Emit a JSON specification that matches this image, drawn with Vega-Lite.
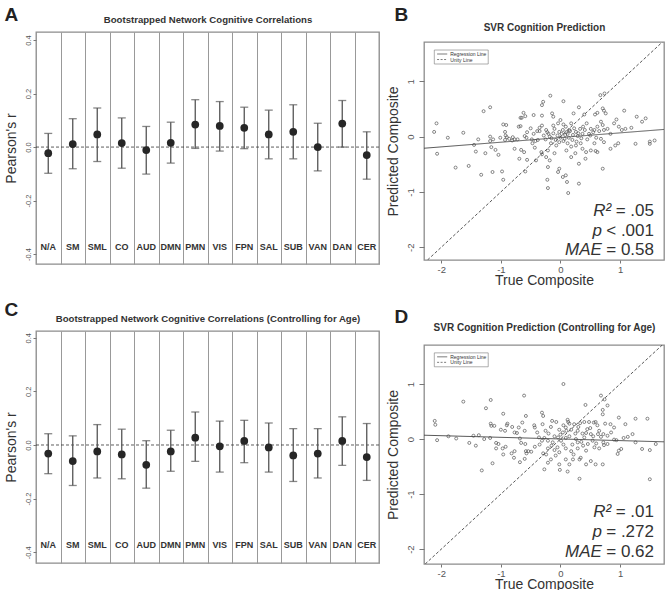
{
  "$schema": "https://vega.github.io/schema/vega-lite/v6.json",
  "padding": {"left": 3, "top": 4, "right": 0, "bottom": 0},
  "background": "white",
  "config": {
    "font": "Liberation Sans",
    "view": {"stroke": "#8c8c8c", "strokeWidth": 1.3},
    "axis": {"domain": false, "grid": false, "labelColor": "#555", "tickColor": "#777", "titleColor": "#333", "titleFontWeight": "normal"}
  },
  "datasets": {
    "netA": [
      {"net": "N/A", "r": -0.023, "lo": -0.098, "hi": 0.051},
      {"net": "SM", "r": 0.011, "lo": -0.081, "hi": 0.106},
      {"net": "SML", "r": 0.047, "lo": -0.054, "hi": 0.146},
      {"net": "CO", "r": 0.015, "lo": -0.079, "hi": 0.109},
      {"net": "AUD", "r": -0.011, "lo": -0.101, "hi": 0.077},
      {"net": "DMN", "r": 0.016, "lo": -0.060, "hi": 0.093},
      {"net": "PMN", "r": 0.084, "lo": -0.005, "hi": 0.177},
      {"net": "VIS", "r": 0.079, "lo": -0.015, "hi": 0.170},
      {"net": "FPN", "r": 0.072, "lo": -0.006, "hi": 0.149},
      {"net": "SAL", "r": 0.047, "lo": -0.044, "hi": 0.138},
      {"net": "SUB", "r": 0.057, "lo": -0.044, "hi": 0.158},
      {"net": "VAN", "r": 0.000, "lo": -0.089, "hi": 0.089},
      {"net": "DAN", "r": 0.088, "lo": 0.000, "hi": 0.174},
      {"net": "CER", "r": -0.030, "lo": -0.120, "hi": 0.057}
    ],
    "netC": [
      {"net": "N/A", "r": -0.032, "lo": -0.107, "hi": 0.042},
      {"net": "SM", "r": -0.060, "lo": -0.151, "hi": 0.034},
      {"net": "SML", "r": -0.024, "lo": -0.123, "hi": 0.076},
      {"net": "CO", "r": -0.035, "lo": -0.126, "hi": 0.059},
      {"net": "AUD", "r": -0.074, "lo": -0.161, "hi": 0.016},
      {"net": "DMN", "r": -0.024, "lo": -0.098, "hi": 0.055},
      {"net": "PMN", "r": 0.027, "lo": -0.061, "hi": 0.123},
      {"net": "VIS", "r": -0.005, "lo": -0.101, "hi": 0.089},
      {"net": "FPN", "r": 0.015, "lo": -0.066, "hi": 0.092},
      {"net": "SAL", "r": -0.009, "lo": -0.101, "hi": 0.082},
      {"net": "SUB", "r": -0.039, "lo": -0.136, "hi": 0.061},
      {"net": "VAN", "r": -0.032, "lo": -0.123, "hi": 0.061},
      {"net": "DAN", "r": 0.015, "lo": -0.076, "hi": 0.105},
      {"net": "CER", "r": -0.045, "lo": -0.132, "hi": 0.080}
    ],
    "svrB": [
      {"x": -2.08, "y": 0.24}, {"x": -2.12, "y": 0.085}, {"x": -1.89, "y": -0.02}, {"x": -1.63, "y": 0.07}, {"x": -2.07, "y": -0.31},
      {"x": -1.76, "y": -0.56}, {"x": -1.54, "y": -0.53}, {"x": -1.29, "y": 0.46}, {"x": -1.18, "y": 0.53}, {"x": -1.38, "y": -0.05},
      {"x": -1.42, "y": -0.27}, {"x": -1.45, "y": -0.15}, {"x": -1.26, "y": -0.30}, {"x": -1.33, "y": -0.69}, {"x": -1.14, "y": -0.64},
      {"x": -0.98, "y": -0.63}, {"x": -0.96, "y": -0.78}, {"x": -1.18, "y": 0.0}, {"x": -1.13, "y": -0.05}, {"x": -1.18, "y": -0.08},
      {"x": -1.16, "y": -0.19}, {"x": -1.09, "y": -0.24}, {"x": -1.04, "y": -0.33}, {"x": -1.01, "y": -0.02}, {"x": -0.96, "y": 0.22},
      {"x": -0.91, "y": 0.21}, {"x": -0.93, "y": 0.085}, {"x": -0.92, "y": 0.02}, {"x": -0.90, "y": -0.01}, {"x": -0.93, "y": -0.06},
      {"x": -0.86, "y": -0.04}, {"x": -0.80, "y": -0.01}, {"x": -0.77, "y": -0.05}, {"x": -0.81, "y": -0.07}, {"x": -0.72, "y": -0.05},
      {"x": -0.77, "y": -0.22}, {"x": -0.69, "y": -0.40}, {"x": -0.66, "y": -0.24}, {"x": -0.61, "y": -0.28}, {"x": -0.70, "y": 0.18},
      {"x": -0.67, "y": 0.19}, {"x": -0.67, "y": 0.34}, {"x": -0.65, "y": 0.34}, {"x": -0.62, "y": 0.43}, {"x": -0.59, "y": 0.37},
      {"x": -0.60, "y": 0.01}, {"x": -0.57, "y": -0.02}, {"x": -0.56, "y": -0.42}, {"x": -0.59, "y": -0.63}, {"x": -0.45, "y": 0.39},
      {"x": -0.48, "y": -0.05}, {"x": -0.47, "y": -0.12}, {"x": -0.43, "y": -0.20}, {"x": -0.39, "y": 0.10}, {"x": -0.35, "y": 0.10},
      {"x": -0.38, "y": -0.06}, {"x": -0.35, "y": 0.16}, {"x": -0.31, "y": 0.38}, {"x": -0.31, "y": 0.20}, {"x": -0.29, "y": 0.63},
      {"x": -0.31, "y": 0.57}, {"x": -0.32, "y": -0.28}, {"x": -0.31, "y": -0.32}, {"x": -0.41, "y": -0.43}, {"x": -0.56, "y": 0.08},
      {"x": -0.17, "y": 0.74}, {"x": 0.05, "y": 0.64}, {"x": 0.31, "y": 0.53}, {"x": 0.67, "y": 0.75}, {"x": 0.74, "y": 0.78},
      {"x": -0.14, "y": 0.42}, {"x": -0.12, "y": 0.36}, {"x": 0.22, "y": 0.42}, {"x": 0.40, "y": 0.40}, {"x": 0.58, "y": 0.40},
      {"x": 0.62, "y": 0.43}, {"x": 0.71, "y": 0.51}, {"x": 0.73, "y": 0.47}, {"x": 0.76, "y": 0.42}, {"x": 1.07, "y": 0.47},
      {"x": 1.28, "y": 0.36}, {"x": 1.37, "y": 0.27}, {"x": 1.43, "y": 0.33}, {"x": -0.24, "y": 0.12}, {"x": -0.20, "y": 0.05},
      {"x": -0.10, "y": 0.14}, {"x": -0.04, "y": 0.24}, {"x": -0.02, "y": 0.085}, {"x": 0.04, "y": 0.12}, {"x": 0.08, "y": 0.03},
      {"x": 0.09, "y": 0.18}, {"x": 0.12, "y": 0.05}, {"x": 0.15, "y": 0.12}, {"x": 0.18, "y": 0.24}, {"x": 0.21, "y": 0.03},
      {"x": 0.26, "y": 0.085}, {"x": 0.29, "y": 0.01}, {"x": 0.33, "y": 0.14}, {"x": 0.37, "y": 0.05}, {"x": 0.41, "y": 0.12},
      {"x": 0.44, "y": 0.24}, {"x": 0.48, "y": 0.05}, {"x": 0.51, "y": 0.14}, {"x": 0.57, "y": 0.12}, {"x": 0.62, "y": 0.18},
      {"x": 0.68, "y": 0.27}, {"x": 0.71, "y": 0.21}, {"x": 0.73, "y": 0.12}, {"x": 0.79, "y": 0.14}, {"x": 0.84, "y": 0.05},
      {"x": 0.90, "y": 0.24}, {"x": 0.94, "y": 0.31}, {"x": 0.98, "y": 0.18}, {"x": 1.03, "y": 0.12}, {"x": 1.09, "y": 0.14},
      {"x": 1.19, "y": 0.16}, {"x": 0.97, "y": -0.12}, {"x": 0.92, "y": -0.16}, {"x": 0.84, "y": -0.22}, {"x": 1.26, "y": -0.13},
      {"x": 1.50, "y": -0.13}, {"x": 1.50, "y": -0.09}, {"x": 1.58, "y": -0.07}, {"x": -0.16, "y": -0.12}, {"x": -0.07, "y": -0.16},
      {"x": -0.02, "y": -0.10}, {"x": 0.07, "y": -0.04}, {"x": 0.12, "y": -0.12}, {"x": 0.18, "y": -0.18}, {"x": 0.18, "y": -0.37},
      {"x": 0.26, "y": -0.16}, {"x": 0.34, "y": -0.12}, {"x": 0.37, "y": -0.22}, {"x": 0.43, "y": -0.28}, {"x": 0.51, "y": -0.25},
      {"x": 0.59, "y": -0.26}, {"x": 0.62, "y": -0.28}, {"x": 0.57, "y": -0.12}, {"x": 0.68, "y": -0.04}, {"x": 0.73, "y": -0.10},
      {"x": -0.21, "y": -0.25}, {"x": -0.24, "y": -0.37}, {"x": -0.18, "y": -0.43}, {"x": -0.21, "y": -0.55}, {"x": -0.02, "y": -0.58},
      {"x": -0.04, "y": -0.64}, {"x": 0.04, "y": -0.73}, {"x": 0.09, "y": -0.70}, {"x": 0.11, "y": -0.82}, {"x": -0.22, "y": -0.78},
      {"x": 0.31, "y": -0.85}, {"x": -0.21, "y": -0.93}, {"x": 0.13, "y": -1.02}, {"x": 0.31, "y": -0.49}, {"x": 0.71, "y": -0.58},
      {"x": -0.28, "y": 0.02}, {"x": -0.25, "y": -0.05}, {"x": -0.22, "y": 0.08}, {"x": -0.18, "y": 0.0}, {"x": -0.15, "y": -0.03},
      {"x": -0.12, "y": 0.06}, {"x": -0.08, "y": -0.06}, {"x": -0.05, "y": 0.02}, {"x": 0.0, "y": -0.02}, {"x": 0.02, "y": 0.05},
      {"x": 0.05, "y": -0.08}, {"x": 0.10, "y": 0.08}, {"x": 0.14, "y": -0.02}, {"x": 0.16, "y": 0.10}, {"x": 0.20, "y": -0.06},
      {"x": 0.23, "y": 0.15}, {"x": 0.27, "y": -0.09}, {"x": 0.30, "y": 0.06}, {"x": 0.35, "y": -0.03}, {"x": 0.38, "y": 0.18},
      {"x": 0.45, "y": -0.05}, {"x": 0.50, "y": 0.02}, {"x": 0.55, "y": 0.08}, {"x": 0.60, "y": -0.02}, {"x": 0.65, "y": 0.10},
      {"x": -0.45, "y": 0.05}, {"x": -0.50, "y": 0.15}, {"x": -0.42, "y": -0.08}, {"x": 0.0, "y": 0.30}, {"x": 0.10, "y": -0.25},
      {"x": -0.10, "y": -0.30}, {"x": 0.25, "y": -0.30}, {"x": 0.42, "y": -0.40}, {"x": -0.12, "y": 0.20}, {"x": 0.05, "y": 0.22}
    ],
    "svrD": [
      {"x": -2.11, "y": 0.33}, {"x": -2.10, "y": 0.26}, {"x": -2.07, "y": -0.02}, {"x": -1.88, "y": 0.05}, {"x": -1.75, "y": 0.01},
      {"x": -1.63, "y": 0.68}, {"x": -1.53, "y": -0.07}, {"x": -1.46, "y": 0.06}, {"x": -1.42, "y": -0.12}, {"x": -1.37, "y": 0.07},
      {"x": -1.32, "y": -0.57}, {"x": -1.28, "y": 0.0}, {"x": -1.25, "y": 0.56}, {"x": -1.17, "y": 0.71}, {"x": -1.18, "y": 0.02},
      {"x": -1.17, "y": 0.28}, {"x": -1.16, "y": 0.24}, {"x": -1.11, "y": 0.24}, {"x": -1.14, "y": -0.44}, {"x": -1.08, "y": -0.07},
      {"x": -1.04, "y": -0.09}, {"x": -1.08, "y": -0.17}, {"x": -1.00, "y": 0.17}, {"x": -0.96, "y": 0.46}, {"x": -0.97, "y": -0.17},
      {"x": -0.92, "y": -0.14}, {"x": -0.96, "y": -0.28}, {"x": -0.93, "y": 0.15}, {"x": -0.90, "y": 0.25}, {"x": -0.89, "y": 0.28},
      {"x": -0.82, "y": -0.26}, {"x": -0.81, "y": 0.22}, {"x": -0.77, "y": 0.12}, {"x": -0.77, "y": -0.22}, {"x": -0.78, "y": -0.34},
      {"x": -0.73, "y": 0.11}, {"x": -0.70, "y": 0.21}, {"x": -0.68, "y": 0.01}, {"x": -0.68, "y": -0.42}, {"x": -0.66, "y": -0.07},
      {"x": -0.64, "y": 0.30}, {"x": -0.61, "y": 0.79}, {"x": -0.60, "y": 0.15}, {"x": -0.58, "y": 0.42}, {"x": -0.59, "y": -0.09},
      {"x": -0.58, "y": -0.22}, {"x": -0.57, "y": -0.26}, {"x": -0.54, "y": -0.22}, {"x": -0.60, "y": -0.36}, {"x": -0.49, "y": -0.23},
      {"x": -0.43, "y": -0.14}, {"x": -0.44, "y": 0.25}, {"x": -0.43, "y": 0.21}, {"x": -0.39, "y": 0.12}, {"x": -0.36, "y": 0.03},
      {"x": -0.31, "y": 0.48}, {"x": -0.29, "y": 0.42}, {"x": -0.30, "y": 0.27}, {"x": -0.31, "y": -0.03}, {"x": -0.29, "y": -0.26},
      {"x": -0.27, "y": -0.55}, {"x": 0.05, "y": 1.00}, {"x": 0.42, "y": 0.62}, {"x": 0.68, "y": 0.79}, {"x": 0.74, "y": 0.72},
      {"x": 0.79, "y": 0.61}, {"x": 0.71, "y": 0.53}, {"x": 0.71, "y": 0.45}, {"x": 0.98, "y": 0.39}, {"x": 1.26, "y": 0.37},
      {"x": 1.46, "y": 0.37}, {"x": -0.14, "y": 0.33}, {"x": -0.07, "y": 0.31}, {"x": 0.12, "y": 0.35}, {"x": 0.13, "y": 0.31},
      {"x": 0.15, "y": 0.28}, {"x": 0.23, "y": 0.27}, {"x": 0.33, "y": 0.29}, {"x": 0.40, "y": 0.31}, {"x": 0.48, "y": 0.31},
      {"x": 0.56, "y": 0.30}, {"x": 0.59, "y": 0.31}, {"x": 0.62, "y": 0.25}, {"x": 0.75, "y": 0.28}, {"x": 0.84, "y": 0.27},
      {"x": 0.90, "y": 0.21}, {"x": 1.09, "y": 0.27}, {"x": -0.16, "y": 0.22}, {"x": -0.02, "y": 0.17}, {"x": 0.04, "y": 0.12},
      {"x": 0.09, "y": 0.21}, {"x": 0.18, "y": 0.17}, {"x": 0.29, "y": 0.15}, {"x": 0.37, "y": 0.10}, {"x": 0.43, "y": 0.11},
      {"x": 0.51, "y": 0.09}, {"x": 0.63, "y": 0.09}, {"x": 0.68, "y": 0.04}, {"x": 0.72, "y": 0.09}, {"x": 0.79, "y": 0.06},
      {"x": 0.90, "y": -0.01}, {"x": 0.94, "y": -0.02}, {"x": 1.06, "y": 0.02}, {"x": 1.13, "y": 0.04}, {"x": 1.21, "y": 0.09},
      {"x": -0.27, "y": 0.02}, {"x": -0.21, "y": -0.03}, {"x": -0.13, "y": -0.06}, {"x": -0.04, "y": 0.03}, {"x": 0.01, "y": -0.03},
      {"x": 0.09, "y": 0.02}, {"x": 0.26, "y": 0.0}, {"x": 0.29, "y": -0.06}, {"x": 0.40, "y": 0.03}, {"x": 0.46, "y": -0.09},
      {"x": 0.54, "y": -0.03}, {"x": 0.72, "y": -0.06}, {"x": 0.79, "y": -0.09}, {"x": -0.21, "y": -0.17}, {"x": -0.10, "y": -0.20},
      {"x": -0.02, "y": -0.24}, {"x": 0.09, "y": -0.17}, {"x": 0.18, "y": -0.22}, {"x": 0.29, "y": -0.17}, {"x": 0.43, "y": -0.21},
      {"x": 0.57, "y": -0.15}, {"x": 0.65, "y": -0.17}, {"x": 0.73, "y": -0.11}, {"x": 0.98, "y": -0.21}, {"x": 1.02, "y": -0.18},
      {"x": 0.96, "y": -0.27}, {"x": 1.26, "y": -0.06}, {"x": 1.37, "y": -0.18}, {"x": 1.50, "y": -0.20}, {"x": -0.24, "y": -0.28},
      {"x": -0.16, "y": -0.37}, {"x": -0.02, "y": -0.46}, {"x": -0.01, "y": -0.56}, {"x": 0.12, "y": -0.59}, {"x": 0.21, "y": -0.37},
      {"x": 0.32, "y": -0.37}, {"x": 0.34, "y": -0.34}, {"x": 0.43, "y": -0.46}, {"x": 0.51, "y": -0.40}, {"x": 0.59, "y": -0.46},
      {"x": 0.71, "y": -0.46}, {"x": 0.09, "y": -0.37}, {"x": 0.15, "y": -0.46}, {"x": 0.32, "y": -0.72}, {"x": 1.50, "y": -0.73},
      {"x": -0.21, "y": -0.43}, {"x": 1.60, "y": -0.09}, {"x": -0.20, "y": 0.10}, {"x": -0.10, "y": 0.05}, {"x": 0.0, "y": 0.08},
      {"x": 0.05, "y": -0.10}, {"x": 0.15, "y": 0.05}, {"x": 0.20, "y": -0.10}, {"x": 0.25, "y": 0.10}, {"x": 0.35, "y": -0.05},
      {"x": 0.45, "y": 0.18}, {"x": 0.55, "y": 0.05}, {"x": 0.60, "y": -0.08}, {"x": -0.15, "y": -0.12}, {"x": 0.10, "y": 0.15},
      {"x": 0.30, "y": 0.22}, {"x": -0.05, "y": -0.15}, {"x": 0.38, "y": -0.12}, {"x": 0.50, "y": 0.20}, {"x": 0.65, "y": 0.15},
      {"x": 0.85, "y": 0.12}, {"x": -0.35, "y": -0.10}, {"x": -0.25, "y": 0.15}, {"x": 0.05, "y": 0.25}, {"x": -0.08, "y": -0.30},
      {"x": 0.22, "y": -0.28}
    ],
    "linesB": [
      {"kind": "Regression Line", "x": -2.29, "y": -0.21},
      {"kind": "Regression Line", "x": 1.738, "y": 0.13},
      {"kind": "Unity Line", "x": -2.231, "y": -2.231},
      {"kind": "Unity Line", "x": 1.711, "y": 1.711}
    ],
    "linesD": [
      {"kind": "Regression Line", "x": -2.29, "y": 0.07},
      {"kind": "Regression Line", "x": 1.738, "y": -0.05},
      {"kind": "Unity Line", "x": -2.27, "y": -2.27},
      {"kind": "Unity Line", "x": 1.709, "y": 1.709}
    ],
    "one": [{}]
  },
  "spacing": 4,
  "hconcat": [
    {
      "spacing": 34,
      "vconcat": [
        {
          "width": 343, "height": 232,
          "resolve": {"axis": {"x": "independent", "y": "independent"}},
          "layer": [
            {
              "data": {"name": "one"},
              "mark": {"type": "rule", "strokeDash": [3, 2], "color": "#333", "strokeWidth": 0.8},
              "encoding": {"y": {"datum": 0, "type": "quantitative", "scale": {"domain": [-0.437, 0.43], "nice": false, "zero": false}, "axis": null}}
            },
            {
              "data": {"name": "netA"},
              "mark": {"type": "rule", "color": "#555", "strokeWidth": 1.3},
              "encoding": {
                "x": {"field": "net", "type": "nominal", "sort": null, "scale": {"paddingInner": 0, "paddingOuter": 0},
                  "axis": {"orient": "top", "title": "Bootstrapped Network Cognitive Correlations", "titleFontSize": 9.6, "titleFontWeight": "bold", "titleColor": "#333", "titlePadding": 8, "labels": false, "ticks": false, "domain": false, "grid": true, "tickBand": "extent", "gridColor": "#999", "gridWidth": 1, "gridOpacity": 1}},
                "y": {"field": "lo", "type": "quantitative", "scale": {"domain": [-0.437, 0.43], "nice": false, "zero": false},
                  "axis": {"orient": "left", "title": "Pearson's r", "titleFontSize": 14, "titlePadding": 6, "values": [-0.4, -0.2, 0, 0.2, 0.4], "labelExpr": "replace(format(datum.value, '.1f'), '\u2212', '-')", "labelAngle": -90, "labelAlign": "center", "labelBaseline": "bottom", "labelFontSize": 7.5, "tickSize": 3, "labelPadding": 1}},
                "y2": {"field": "hi"}
              }
            },
            {
              "data": {"name": "netA"},
              "mark": {"type": "tick", "color": "#555", "size": 8, "thickness": 1.3},
              "encoding": {
                "x": {"field": "net", "type": "nominal", "sort": null, "scale": {"paddingInner": 0, "paddingOuter": 0}, "axis": null},
                "y": {"field": "lo", "type": "quantitative", "scale": {"domain": [-0.437, 0.43], "nice": false, "zero": false}, "axis": null}
              }
            },
            {
              "data": {"name": "netA"},
              "mark": {"type": "tick", "color": "#555", "size": 8, "thickness": 1.3},
              "encoding": {
                "x": {"field": "net", "type": "nominal", "sort": null, "scale": {"paddingInner": 0, "paddingOuter": 0}, "axis": null},
                "y": {"field": "hi", "type": "quantitative", "scale": {"domain": [-0.437, 0.43], "nice": false, "zero": false}, "axis": null}
              }
            },
            {
              "data": {"name": "netA"},
              "mark": {"type": "point", "filled": true, "shape": "circle", "size": 60, "color": "#262626", "opacity": 1},
              "encoding": {
                "x": {"field": "net", "type": "nominal", "sort": null, "scale": {"paddingInner": 0, "paddingOuter": 0}, "axis": null},
                "y": {"field": "r", "type": "quantitative", "scale": {"domain": [-0.437, 0.43], "nice": false, "zero": false},
                  "axis": {"orient": "right", "title": "A", "titleFontSize": 19, "titleFontWeight": "bold", "titleColor": "#222", "titleAngle": 0, "titleAlign": "left", "titleBaseline": "alphabetic", "titleX": -375, "titleY": -12, "labels": false, "ticks": false, "domain": false, "grid": false}}
              }
            },
            {
              "data": {"name": "netA"},
              "mark": {"type": "text", "fontWeight": "bold", "fontSize": 9, "color": "#333", "baseline": "middle"},
              "encoding": {
                "x": {"field": "net", "type": "nominal", "sort": null, "scale": {"paddingInner": 0, "paddingOuter": 0}, "axis": null},
                "y": {"datum": -0.374, "type": "quantitative", "scale": {"domain": [-0.437, 0.43], "nice": false, "zero": false}, "axis": null},
                "text": {"field": "net"}
              }
            }
          ]
        },
        {
          "width": 343, "height": 232,
          "resolve": {"axis": {"x": "independent", "y": "independent"}},
          "layer": [
            {
              "data": {"name": "one"},
              "mark": {"type": "rule", "strokeDash": [3, 2], "color": "#333", "strokeWidth": 0.8},
              "encoding": {"y": {"datum": 0, "type": "quantitative", "scale": {"domain": [-0.44, 0.425], "nice": false, "zero": false}, "axis": null}}
            },
            {
              "data": {"name": "netC"},
              "mark": {"type": "rule", "color": "#555", "strokeWidth": 1.3},
              "encoding": {
                "x": {"field": "net", "type": "nominal", "sort": null, "scale": {"paddingInner": 0, "paddingOuter": 0},
                  "axis": {"orient": "top", "title": "Bootstrapped Network Cognitive Correlations (Controlling for Age)", "titleFontSize": 9.6, "titleFontWeight": "bold", "titleColor": "#333", "titlePadding": 8, "labels": false, "ticks": false, "domain": false, "grid": true, "tickBand": "extent", "gridColor": "#999", "gridWidth": 1, "gridOpacity": 1}},
                "y": {"field": "lo", "type": "quantitative", "scale": {"domain": [-0.44, 0.425], "nice": false, "zero": false},
                  "axis": {"orient": "left", "title": "Pearson's r", "titleFontSize": 14, "titlePadding": 6, "values": [-0.4, -0.2, 0, 0.2, 0.4], "labelExpr": "replace(format(datum.value, '.1f'), '\u2212', '-')", "labelAngle": -90, "labelAlign": "center", "labelBaseline": "bottom", "labelFontSize": 7.5, "tickSize": 3, "labelPadding": 1}},
                "y2": {"field": "hi"}
              }
            },
            {
              "data": {"name": "netC"},
              "mark": {"type": "tick", "color": "#555", "size": 8, "thickness": 1.3},
              "encoding": {
                "x": {"field": "net", "type": "nominal", "sort": null, "scale": {"paddingInner": 0, "paddingOuter": 0}, "axis": null},
                "y": {"field": "lo", "type": "quantitative", "scale": {"domain": [-0.44, 0.425], "nice": false, "zero": false}, "axis": null}
              }
            },
            {
              "data": {"name": "netC"},
              "mark": {"type": "tick", "color": "#555", "size": 8, "thickness": 1.3},
              "encoding": {
                "x": {"field": "net", "type": "nominal", "sort": null, "scale": {"paddingInner": 0, "paddingOuter": 0}, "axis": null},
                "y": {"field": "hi", "type": "quantitative", "scale": {"domain": [-0.44, 0.425], "nice": false, "zero": false}, "axis": null}
              }
            },
            {
              "data": {"name": "netC"},
              "mark": {"type": "point", "filled": true, "shape": "circle", "size": 60, "color": "#262626", "opacity": 1},
              "encoding": {
                "x": {"field": "net", "type": "nominal", "sort": null, "scale": {"paddingInner": 0, "paddingOuter": 0}, "axis": null},
                "y": {"field": "r", "type": "quantitative", "scale": {"domain": [-0.44, 0.425], "nice": false, "zero": false},
                  "axis": {"orient": "right", "title": "C", "titleFontSize": 19, "titleFontWeight": "bold", "titleColor": "#222", "titleAngle": 0, "titleAlign": "left", "titleBaseline": "alphabetic", "titleX": -375, "titleY": -16, "labels": false, "ticks": false, "domain": false, "grid": false}}
              }
            },
            {
              "data": {"name": "netC"},
              "mark": {"type": "text", "fontWeight": "bold", "fontSize": 9, "color": "#333", "baseline": "middle"},
              "encoding": {
                "x": {"field": "net", "type": "nominal", "sort": null, "scale": {"paddingInner": 0, "paddingOuter": 0}, "axis": null},
                "y": {"datum": -0.374, "type": "quantitative", "scale": {"domain": [-0.44, 0.425], "nice": false, "zero": false}, "axis": null},
                "text": {"field": "net"}
              }
            }
          ]
        }
      ]
    },
    {
      "spacing": 17,
      "vconcat": [
        {
          "spacing": -32,
          "vconcat": [
            {
              "width": 240, "height": 1,
              "view": {"stroke": null},
              "data": {"name": "one"},
              "mark": {"type": "point", "opacity": 0},
              "encoding": {}
            },
            {
              "width": 240, "height": 218,
              "resolve": {"axis": {"x": "independent", "y": "independent"}},
              "layer": [
                {
                  "data": {"name": "svrB"},
                  "mark": {"type": "point", "shape": "circle", "filled": false, "size": 9, "stroke": "#555", "strokeWidth": 0.7, "opacity": 1},
                  "encoding": {
                    "x": {"field": "x", "type": "quantitative", "scale": {"domain": [-2.29, 1.738], "nice": false, "zero": false},
                      "axis": {"orient": "bottom", "title": "True Composite", "titleFontSize": 14, "titlePadding": 0, "values": [-2, -1, 0, 1], "labelExpr": "replace(datum.label, '\u2212', '-')", "labelFontSize": 9.5, "tickSize": 3, "labelPadding": 1}},
                    "y": {"field": "y", "type": "quantitative", "scale": {"domain": [-2.231, 1.711], "nice": false, "zero": false},
                      "axis": {"orient": "left", "title": "Predicted Composite", "titleFontSize": 14, "titlePadding": 5, "values": [-2, -1, 0, 1], "labelExpr": "replace(datum.label, '\u2212', '-')", "labelAngle": -90, "labelAlign": "center", "labelBaseline": "bottom", "labelFontSize": 9.5, "tickSize": 5, "labelPadding": 4}}
                  }
                },
                {
                  "data": {"name": "linesB"},
                  "mark": {"type": "line", "clip": true, "color": "#444", "strokeWidth": 0.9},
                  "encoding": {
                    "x": {"field": "x", "type": "quantitative", "scale": {"domain": [-2.29, 1.738], "nice": false, "zero": false},
                      "axis": {"orient": "top", "title": "SVR Cognition Prediction", "titleFontSize": 10, "titleFontWeight": "bold", "titleColor": "#333", "titlePadding": 10, "labels": false, "ticks": false, "domain": false, "grid": false}},
                    "y": {"field": "y", "type": "quantitative", "scale": {"domain": [-2.231, 1.711], "nice": false, "zero": false},
                      "axis": {"orient": "right", "title": "B", "titleFontSize": 19, "titleFontWeight": "bold", "titleColor": "#222", "titleAngle": 0, "titleAlign": "left", "titleBaseline": "alphabetic", "titleX": -270, "titleY": -22, "labels": false, "ticks": false, "domain": false, "grid": false}},
                    "strokeDash": {"field": "kind", "type": "nominal", "scale": {"domain": ["Regression Line", "Unity Line"], "range": [[1, 0], [3, 2]]}, "legend": null}
                  }
                },
                {
                  "data": {"name": "one"},
                  "mark": {"type": "rect", "fill": "white", "stroke": "#777", "strokeWidth": 0.6},
                  "encoding": {
                    "x": {"datum": -2.117, "type": "quantitative", "scale": {"domain": [-2.29, 1.738], "nice": false, "zero": false}, "axis": null},
                    "x2": {"datum": -1.212},
                    "y": {"datum": 1.566, "type": "quantitative", "scale": {"domain": [-2.231, 1.711], "nice": false, "zero": false}, "axis": null},
                    "y2": {"datum": 1.313}
                  }
                },
                {
                  "data": {"name": "one"},
                  "mark": {"type": "rule", "stroke": "#444", "strokeWidth": 0.7},
                  "encoding": {
                    "x": {"datum": -2.07, "type": "quantitative", "scale": {"domain": [-2.29, 1.738], "nice": false, "zero": false}, "axis": null},
                    "x2": {"datum": -1.90},
                    "y": {"datum": 1.494, "type": "quantitative", "scale": {"domain": [-2.231, 1.711], "nice": false, "zero": false}, "axis": null}
                  }
                },
                {
                  "data": {"name": "one"},
                  "mark": {"type": "rule", "stroke": "#444", "strokeWidth": 0.7, "strokeDash": [2, 1.5]},
                  "encoding": {
                    "x": {"datum": -2.07, "type": "quantitative", "scale": {"domain": [-2.29, 1.738], "nice": false, "zero": false}, "axis": null},
                    "x2": {"datum": -1.90},
                    "y": {"datum": 1.394, "type": "quantitative", "scale": {"domain": [-2.231, 1.711], "nice": false, "zero": false}, "axis": null}
                  }
                },
                {
                  "data": {"name": "one"},
                  "mark": {"type": "text", "fontSize": 5, "align": "left", "baseline": "middle", "color": "#333", "text": "Regression Line"},
                  "encoding": {
                    "x": {"datum": -1.85, "type": "quantitative", "scale": {"domain": [-2.29, 1.738], "nice": false, "zero": false}, "axis": null},
                    "y": {"datum": 1.494, "type": "quantitative", "scale": {"domain": [-2.231, 1.711], "nice": false, "zero": false}, "axis": null}
                  }
                },
                {
                  "data": {"name": "one"},
                  "mark": {"type": "text", "fontSize": 5, "align": "left", "baseline": "middle", "color": "#333", "text": "Unity Line"},
                  "encoding": {
                    "x": {"datum": -1.85, "type": "quantitative", "scale": {"domain": [-2.29, 1.738], "nice": false, "zero": false}, "axis": null},
                    "y": {"datum": 1.394, "type": "quantitative", "scale": {"domain": [-2.231, 1.711], "nice": false, "zero": false}, "axis": null}
                  }
                },
                {
                  "data": {"name": "one"},
                  "mark": {"type": "text", "fontSize": 17, "fontStyle": "italic", "align": "right", "baseline": "alphabetic", "color": "#333", "text": "R²"},
                  "encoding": {
                    "x": {"datum": 0.853, "type": "quantitative", "scale": {"domain": [-2.29, 1.738], "nice": false, "zero": false}, "axis": null},
                    "y": {"datum": -1.436, "type": "quantitative", "scale": {"domain": [-2.231, 1.711], "nice": false, "zero": false}, "axis": null}
                  }
                },
                {
                  "data": {"name": "one"},
                  "mark": {"type": "text", "fontSize": 17, "align": "right", "baseline": "alphabetic", "color": "#333", "text": " = .05"},
                  "encoding": {
                    "x": {"datum": 1.57, "type": "quantitative", "scale": {"domain": [-2.29, 1.738], "nice": false, "zero": false}, "axis": null},
                    "y": {"datum": -1.436, "type": "quantitative", "scale": {"domain": [-2.231, 1.711], "nice": false, "zero": false}, "axis": null}
                  }
                },
                {
                  "data": {"name": "one"},
                  "mark": {"type": "text", "fontSize": 17, "fontStyle": "italic", "align": "right", "baseline": "alphabetic", "color": "#333", "text": "p"},
                  "encoding": {
                    "x": {"datum": 0.6955, "type": "quantitative", "scale": {"domain": [-2.29, 1.738], "nice": false, "zero": false}, "axis": null},
                    "y": {"datum": -1.797, "type": "quantitative", "scale": {"domain": [-2.231, 1.711], "nice": false, "zero": false}, "axis": null}
                  }
                },
                {
                  "data": {"name": "one"},
                  "mark": {"type": "text", "fontSize": 17, "align": "right", "baseline": "alphabetic", "color": "#333", "text": " < .001"},
                  "encoding": {
                    "x": {"datum": 1.57, "type": "quantitative", "scale": {"domain": [-2.29, 1.738], "nice": false, "zero": false}, "axis": null},
                    "y": {"datum": -1.797, "type": "quantitative", "scale": {"domain": [-2.231, 1.711], "nice": false, "zero": false}, "axis": null}
                  }
                },
                {
                  "data": {"name": "one"},
                  "mark": {"type": "text", "fontSize": 17, "fontStyle": "italic", "align": "right", "baseline": "alphabetic", "color": "#333", "text": "MAE"},
                  "encoding": {
                    "x": {"datum": 0.6955, "type": "quantitative", "scale": {"domain": [-2.29, 1.738], "nice": false, "zero": false}, "axis": null},
                    "y": {"datum": -2.141, "type": "quantitative", "scale": {"domain": [-2.231, 1.711], "nice": false, "zero": false}, "axis": null}
                  }
                },
                {
                  "data": {"name": "one"},
                  "mark": {"type": "text", "fontSize": 17, "align": "right", "baseline": "alphabetic", "color": "#333", "text": " = 0.58"},
                  "encoding": {
                    "x": {"datum": 1.57, "type": "quantitative", "scale": {"domain": [-2.29, 1.738], "nice": false, "zero": false}, "axis": null},
                    "y": {"datum": -2.141, "type": "quantitative", "scale": {"domain": [-2.231, 1.711], "nice": false, "zero": false}, "axis": null}
                  }
                }
              ]
            }
          ]
        },
        {
          "width": 240, "height": 219,
          "resolve": {"axis": {"x": "independent", "y": "independent"}},
          "layer": [
            {
              "data": {"name": "svrD"},
              "mark": {"type": "point", "shape": "circle", "filled": false, "size": 9, "stroke": "#555", "strokeWidth": 0.7, "opacity": 1},
              "encoding": {
                "x": {"field": "x", "type": "quantitative", "scale": {"domain": [-2.29, 1.738], "nice": false, "zero": false},
                  "axis": {"orient": "bottom", "title": "True Composite", "titleFontSize": 14, "titlePadding": 0, "values": [-2, -1, 0, 1], "labelExpr": "replace(datum.label, '\u2212', '-')", "labelFontSize": 9.5, "tickSize": 3, "labelPadding": 1}},
                "y": {"field": "y", "type": "quantitative", "scale": {"domain": [-2.27, 1.709], "nice": false, "zero": false},
                  "axis": {"orient": "left", "title": "Predicted Composite", "titleFontSize": 14, "titlePadding": 5, "values": [-2, -1, 0, 1], "labelExpr": "replace(datum.label, '\u2212', '-')", "labelAngle": -90, "labelAlign": "center", "labelBaseline": "bottom", "labelFontSize": 9.5, "tickSize": 5, "labelPadding": 4}}
              }
            },
            {
              "data": {"name": "linesD"},
              "mark": {"type": "line", "clip": true, "color": "#444", "strokeWidth": 0.9},
              "encoding": {
                "x": {"field": "x", "type": "quantitative", "scale": {"domain": [-2.29, 1.738], "nice": false, "zero": false},
                  "axis": {"orient": "top", "title": "SVR Cognition Prediction (Controlling for Age)", "titleFontSize": 10, "titleFontWeight": "bold", "titleColor": "#333", "titlePadding": 13, "labels": false, "ticks": false, "domain": false, "grid": false}},
                "y": {"field": "y", "type": "quantitative", "scale": {"domain": [-2.27, 1.709], "nice": false, "zero": false},
                  "axis": {"orient": "right", "title": "D", "titleFontSize": 19, "titleFontWeight": "bold", "titleColor": "#222", "titleAngle": 0, "titleAlign": "left", "titleBaseline": "alphabetic", "titleX": -270, "titleY": -23, "labels": false, "ticks": false, "domain": false, "grid": false}},
                "strokeDash": {"field": "kind", "type": "nominal", "scale": {"domain": ["Regression Line", "Unity Line"], "range": [[1, 0], [3, 2]]}, "legend": null}
              }
            },
            {
              "data": {"name": "one"},
              "mark": {"type": "rect", "fill": "white", "stroke": "#777", "strokeWidth": 0.6},
              "encoding": {
                "x": {"datum": -2.117, "type": "quantitative", "scale": {"domain": [-2.29, 1.738], "nice": false, "zero": false}, "axis": null},
                "x2": {"datum": -1.212},
                "y": {"datum": 1.566, "type": "quantitative", "scale": {"domain": [-2.27, 1.709], "nice": false, "zero": false}, "axis": null},
                "y2": {"datum": 1.313}
              }
            },
            {
              "data": {"name": "one"},
              "mark": {"type": "rule", "stroke": "#444", "strokeWidth": 0.7},
              "encoding": {
                "x": {"datum": -2.07, "type": "quantitative", "scale": {"domain": [-2.29, 1.738], "nice": false, "zero": false}, "axis": null},
                "x2": {"datum": -1.90},
                "y": {"datum": 1.494, "type": "quantitative", "scale": {"domain": [-2.27, 1.709], "nice": false, "zero": false}, "axis": null}
              }
            },
            {
              "data": {"name": "one"},
              "mark": {"type": "rule", "stroke": "#444", "strokeWidth": 0.7, "strokeDash": [2, 1.5]},
              "encoding": {
                "x": {"datum": -2.07, "type": "quantitative", "scale": {"domain": [-2.29, 1.738], "nice": false, "zero": false}, "axis": null},
                "x2": {"datum": -1.90},
                "y": {"datum": 1.394, "type": "quantitative", "scale": {"domain": [-2.27, 1.709], "nice": false, "zero": false}, "axis": null}
              }
            },
            {
              "data": {"name": "one"},
              "mark": {"type": "text", "fontSize": 5, "align": "left", "baseline": "middle", "color": "#333", "text": "Regression Line"},
              "encoding": {
                "x": {"datum": -1.85, "type": "quantitative", "scale": {"domain": [-2.29, 1.738], "nice": false, "zero": false}, "axis": null},
                "y": {"datum": 1.494, "type": "quantitative", "scale": {"domain": [-2.27, 1.709], "nice": false, "zero": false}, "axis": null}
              }
            },
            {
              "data": {"name": "one"},
              "mark": {"type": "text", "fontSize": 5, "align": "left", "baseline": "middle", "color": "#333", "text": "Unity Line"},
              "encoding": {
                "x": {"datum": -1.85, "type": "quantitative", "scale": {"domain": [-2.29, 1.738], "nice": false, "zero": false}, "axis": null},
                "y": {"datum": 1.394, "type": "quantitative", "scale": {"domain": [-2.27, 1.709], "nice": false, "zero": false}, "axis": null}
              }
            },
            {
              "data": {"name": "one"},
              "mark": {"type": "text", "fontSize": 17, "fontStyle": "italic", "align": "right", "baseline": "alphabetic", "color": "#333", "text": "R²"},
              "encoding": {
                "x": {"datum": 0.853, "type": "quantitative", "scale": {"domain": [-2.29, 1.738], "nice": false, "zero": false}, "axis": null},
                "y": {"datum": -1.418, "type": "quantitative", "scale": {"domain": [-2.27, 1.709], "nice": false, "zero": false}, "axis": null}
              }
            },
            {
              "data": {"name": "one"},
              "mark": {"type": "text", "fontSize": 17, "align": "right", "baseline": "alphabetic", "color": "#333", "text": " = .01"},
              "encoding": {
                "x": {"datum": 1.57, "type": "quantitative", "scale": {"domain": [-2.29, 1.738], "nice": false, "zero": false}, "axis": null},
                "y": {"datum": -1.418, "type": "quantitative", "scale": {"domain": [-2.27, 1.709], "nice": false, "zero": false}, "axis": null}
              }
            },
            {
              "data": {"name": "one"},
              "mark": {"type": "text", "fontSize": 17, "fontStyle": "italic", "align": "right", "baseline": "alphabetic", "color": "#333", "text": "p"},
              "encoding": {
                "x": {"datum": 0.6955, "type": "quantitative", "scale": {"domain": [-2.29, 1.738], "nice": false, "zero": false}, "axis": null},
                "y": {"datum": -1.782, "type": "quantitative", "scale": {"domain": [-2.27, 1.709], "nice": false, "zero": false}, "axis": null}
              }
            },
            {
              "data": {"name": "one"},
              "mark": {"type": "text", "fontSize": 17, "align": "right", "baseline": "alphabetic", "color": "#333", "text": " = .272"},
              "encoding": {
                "x": {"datum": 1.57, "type": "quantitative", "scale": {"domain": [-2.29, 1.738], "nice": false, "zero": false}, "axis": null},
                "y": {"datum": -1.782, "type": "quantitative", "scale": {"domain": [-2.27, 1.709], "nice": false, "zero": false}, "axis": null}
              }
            },
            {
              "data": {"name": "one"},
              "mark": {"type": "text", "fontSize": 17, "fontStyle": "italic", "align": "right", "baseline": "alphabetic", "color": "#333", "text": "MAE"},
              "encoding": {
                "x": {"datum": 0.6955, "type": "quantitative", "scale": {"domain": [-2.29, 1.738], "nice": false, "zero": false}, "axis": null},
                "y": {"datum": -2.145, "type": "quantitative", "scale": {"domain": [-2.27, 1.709], "nice": false, "zero": false}, "axis": null}
              }
            },
            {
              "data": {"name": "one"},
              "mark": {"type": "text", "fontSize": 17, "align": "right", "baseline": "alphabetic", "color": "#333", "text": " = 0.62"},
              "encoding": {
                "x": {"datum": 1.57, "type": "quantitative", "scale": {"domain": [-2.29, 1.738], "nice": false, "zero": false}, "axis": null},
                "y": {"datum": -2.145, "type": "quantitative", "scale": {"domain": [-2.27, 1.709], "nice": false, "zero": false}, "axis": null}
              }
            }
          ]
        }
      ]
    }
  ]
}
